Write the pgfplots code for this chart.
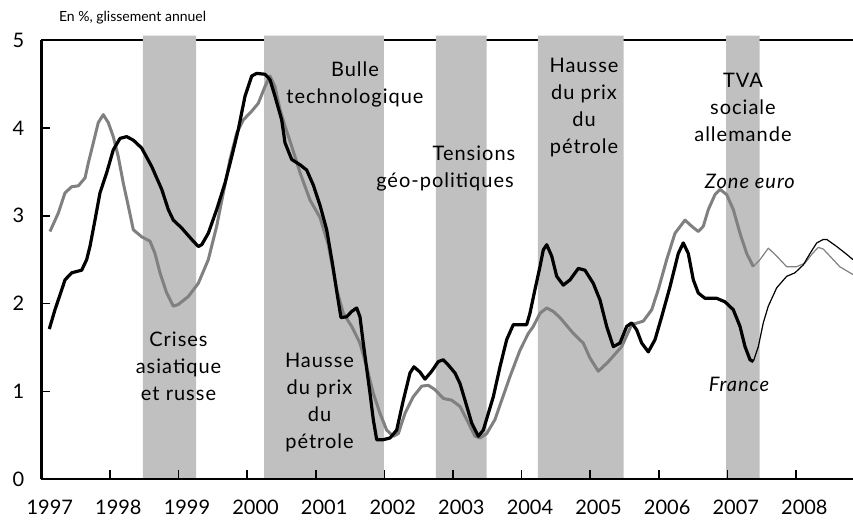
\documentclass[border=0pt]{standalone}
\usepackage{fontspec}
\setmainfont{Lato}
\newfontfamily\ann[LetterSpace=5]{Lato}
\usepackage{pgfplots}
\pgfplotsset{compat=1.18}
\definecolor{band}{RGB}{192,192,192}
\definecolor{euro}{RGB}{128,128,128}
\begin{document}
\begin{tikzpicture}
\begin{axis}[
  scale only axis, width=405.8pt, height=219.65pt,
  xmin=1997, xmax=2008.831, ymin=0, ymax=5,
  axis x line*=bottom, axis y line*=left,
  axis line style={-, line width=1.1pt},
  axis on top,
  xtick={1997,1998,1999,2000,2001,2002,2003,2004,2005,2006,2007,2008},
  xticklabels={},
  extra x ticks={1997.122,1998.122,1999.122,2000.122,2001.122,2002.122,2003.122,2004.122,2005.122,2006.122,2007.122,2008.122},
  extra x tick labels={1997,1998,1999,2000,2001,2002,2003,2004,2005,2006,2007,2008},
  extra x tick style={major tick length=0pt, xticklabel style={inner sep=0pt, yshift=-10pt}},
  ytick={0,1,2,3,4,5}, yticklabels={0,1,2,3,4,5},
  tick align=inside, major tick length=4.5pt,
  tick style={line width=0.8pt, black},
  yticklabel style={xshift=-5pt},
  tick label style={font=\fontsize{10}{12}\selectfont},
  clip=false,
]
\coordinate (O) at (rel axis cs:0,0);
\coordinate (TR) at (rel axis cs:1,1);
\draw[line width=1pt] (rel axis cs:0,1) -- (rel axis cs:1,1);
% bands
\addplot[fill=band, draw=none, forget plot] coordinates {(1998.481,0)(1998.481,5.05)(1999.254,5.05)(1999.254,0)} \closedcycle;
\addplot[fill=band, draw=none, forget plot] coordinates {(2000.245,0)(2000.245,5.05)(2001.994,5.05)(2001.994,0)} \closedcycle;
\addplot[fill=band, draw=none, forget plot] coordinates {(2002.752,0)(2002.752,5.05)(2003.491,5.05)(2003.491,0)} \closedcycle;
\addplot[fill=band, draw=none, forget plot] coordinates {(2004.239,0)(2004.239,5.05)(2005.488,5.05)(2005.488,0)} \closedcycle;
\addplot[fill=band, draw=none, forget plot] coordinates {(2006.980,0)(2006.980,5.05)(2007.471,5.05)(2007.471,0)} \closedcycle;
% Zone euro
\addplot[euro, line width=1.5pt, line join=round, forget plot] coordinates {
(1997.125,2.82)(1997.246,3.03)(1997.344,3.26)(1997.442,3.33)(1997.538,3.34)(1997.636,3.43)(1997.684,3.60)(1997.757,3.83)(1997.829,4.06)(1997.902,4.15)(1997.975,4.06)(1998.048,3.90)(1998.121,3.67)(1998.194,3.37)(1998.267,3.11)(1998.340,2.84)(1998.462,2.76)(1998.583,2.71)(1998.656,2.57)(1998.729,2.35)(1998.827,2.12)(1998.923,1.97)(1998.996,1.99)(1999.141,2.08)(1999.287,2.23)(1999.433,2.50)(1999.555,2.88)(1999.652,3.26)(1999.749,3.64)(1999.847,3.94)(1999.943,4.09)(2000.066,4.19)(2000.162,4.28)(2000.259,4.47)(2000.332,4.59)(2000.405,4.47)(2000.478,4.21)(2000.551,4.02)(2000.649,3.79)(2000.770,3.49)(2000.915,3.18)(2001.061,2.98)(2001.182,2.67)(2001.305,2.16)(2001.401,1.89)(2001.523,1.74)(2001.644,1.55)(2001.742,1.28)(2001.838,0.98)(2001.936,0.75)(2002.033,0.56)(2002.130,0.49)(2002.203,0.52)(2002.300,0.75)(2002.421,0.94)(2002.544,1.06)(2002.640,1.07)(2002.738,1.02)(2002.859,0.92)(2002.981,0.90)(2003.102,0.83)(2003.200,0.68)(2003.321,0.49)(2003.394,0.47)(2003.491,0.52)(2003.612,0.68)(2003.710,0.90)(2003.831,1.17)(2003.977,1.47)(2004.098,1.66)(2004.171,1.74)(2004.268,1.89)(2004.366,1.95)(2004.462,1.91)(2004.560,1.84)(2004.754,1.66)(2004.899,1.55)(2004.997,1.38)(2005.118,1.23)(2005.240,1.32)(2005.289,1.36)(2005.459,1.51)(2005.605,1.76)(2005.774,1.80)(2005.897,1.93)(2005.993,2.16)(2006.115,2.50)(2006.236,2.80)(2006.382,2.95)(2006.480,2.88)(2006.576,2.82)(2006.649,2.88)(2006.722,3.07)(2006.819,3.24)(2006.892,3.30)(2006.990,3.24)(2007.086,3.07)(2007.184,2.80)(2007.281,2.57)(2007.378,2.42)};
\addplot[euro, line width=0.6pt, line join=round, forget plot] coordinates {
(2007.378,2.42)(2007.475,2.50)(2007.596,2.63)(2007.694,2.56)(2007.864,2.42)(2008.010,2.42)(2008.131,2.46)(2008.229,2.56)(2008.325,2.64)(2008.398,2.62)(2008.495,2.54)(2008.637,2.42)(2008.831,2.33)};
% France
\addplot[black, line width=1.6pt, line join=round, forget plot] coordinates {
(1997.115,1.71)(1997.198,1.93)(1997.319,2.21)(1997.344,2.27)(1997.442,2.35)(1997.587,2.38)(1997.660,2.50)(1997.708,2.65)(1997.781,2.95)(1997.854,3.26)(1997.952,3.49)(1998.048,3.75)(1998.146,3.88)(1998.243,3.90)(1998.340,3.86)(1998.462,3.77)(1998.608,3.56)(1998.754,3.30)(1998.850,3.07)(1998.923,2.95)(1999.045,2.86)(1999.191,2.73)(1999.287,2.65)(1999.337,2.67)(1999.433,2.80)(1999.555,3.07)(1999.676,3.37)(1999.774,3.67)(1999.870,3.98)(1999.968,4.36)(2000.066,4.59)(2000.138,4.62)(2000.259,4.61)(2000.332,4.55)(2000.405,4.36)(2000.503,4.09)(2000.551,3.83)(2000.649,3.64)(2000.770,3.58)(2000.867,3.52)(2000.963,3.35)(2001.061,3.12)(2001.159,2.84)(2001.246,2.44)(2001.309,2.12)(2001.367,1.84)(2001.450,1.85)(2001.523,1.91)(2001.596,1.95)(2001.644,1.85)(2001.692,1.55)(2001.790,0.98)(2001.838,0.68)(2001.888,0.45)(2001.980,0.45)(2002.082,0.47)(2002.179,0.56)(2002.276,0.90)(2002.373,1.21)(2002.431,1.28)(2002.519,1.22)(2002.592,1.14)(2002.690,1.23)(2002.786,1.34)(2002.859,1.36)(2002.932,1.30)(2003.029,1.21)(2003.102,1.09)(2003.175,0.90)(2003.273,0.64)(2003.369,0.49)(2003.442,0.56)(2003.515,0.75)(2003.588,0.94)(2003.685,1.28)(2003.783,1.59)(2003.879,1.76)(2004.074,1.76)(2004.122,1.89)(2004.195,2.16)(2004.268,2.42)(2004.316,2.61)(2004.366,2.67)(2004.439,2.54)(2004.512,2.31)(2004.608,2.21)(2004.706,2.27)(2004.827,2.40)(2004.924,2.38)(2005.045,2.23)(2005.143,2.04)(2005.240,1.74)(2005.337,1.51)(2005.434,1.55)(2005.532,1.74)(2005.605,1.78)(2005.678,1.70)(2005.751,1.55)(2005.847,1.45)(2005.945,1.59)(2006.042,1.85)(2006.163,2.19)(2006.284,2.57)(2006.357,2.69)(2006.430,2.57)(2006.503,2.27)(2006.576,2.12)(2006.673,2.06)(2006.844,2.06)(2006.965,2.02)(2007.086,1.93)(2007.184,1.74)(2007.257,1.51)(2007.330,1.36)(2007.378,1.34)};
\addplot[black, line width=0.6pt, line join=round, forget plot] coordinates {
(2007.378,1.34)(2007.451,1.51)(2007.523,1.78)(2007.596,1.97)(2007.719,2.18)(2007.864,2.31)(2007.985,2.35)(2008.106,2.44)(2008.204,2.57)(2008.302,2.69)(2008.398,2.73)(2008.448,2.73)(2008.593,2.65)(2008.739,2.56)(2008.831,2.50)};
% annotations
\node[anchor=west, font=\fontsize{7}{8}\selectfont] at (axis cs:1997.155,5.254) {En \%, glissement annuel};
\node[align=center, font=\ann\fontsize{10}{13.5}\selectfont] at (axis cs:2001.571,4.49) {Bulle\\technologique};
\node[font=\ann\fontsize{10}{13.5}\selectfont] at (axis cs:2003.306,3.71) {Tensions};
\node[font=\ann\fontsize{10}{13.5}\selectfont] at (axis cs:2002.884,3.386) {géo-politiques};
\node[align=center, font=\ann\fontsize{10}{13.5}\selectfont] at (axis cs:2004.91,4.235) {Hausse\\du prix\\du\\pétrole};
\node[align=center, font=\ann\fontsize{10}{13.5}\selectfont] at (axis cs:2007.227,4.229) {TVA\\sociale\\allemande};
\node[font=\ann\fontsize{10}{13.5}\selectfont\itshape] at (axis cs:2007.328,3.386) {Zone euro};
\node[font=\ann\fontsize{10}{13.5}\selectfont\itshape] at (axis cs:2007.17,1.085) {France};
\node[align=center, font=\ann\fontsize{10}{13.5}\selectfont] at (axis cs:1998.999,1.29) {Crises\\asiatique\\et russe};
\node[align=center, font=\ann\fontsize{10}{13.5}\selectfont] at (axis cs:2001.054,0.869) {Hausse\\du prix\\du\\pétrole};
\end{axis}
\pgfresetboundingbox
\path[use as bounding box] ([xshift=-20.7pt,yshift=-21.35pt]O) rectangle ([yshift=20pt]TR);
\end{tikzpicture}
\end{document}
